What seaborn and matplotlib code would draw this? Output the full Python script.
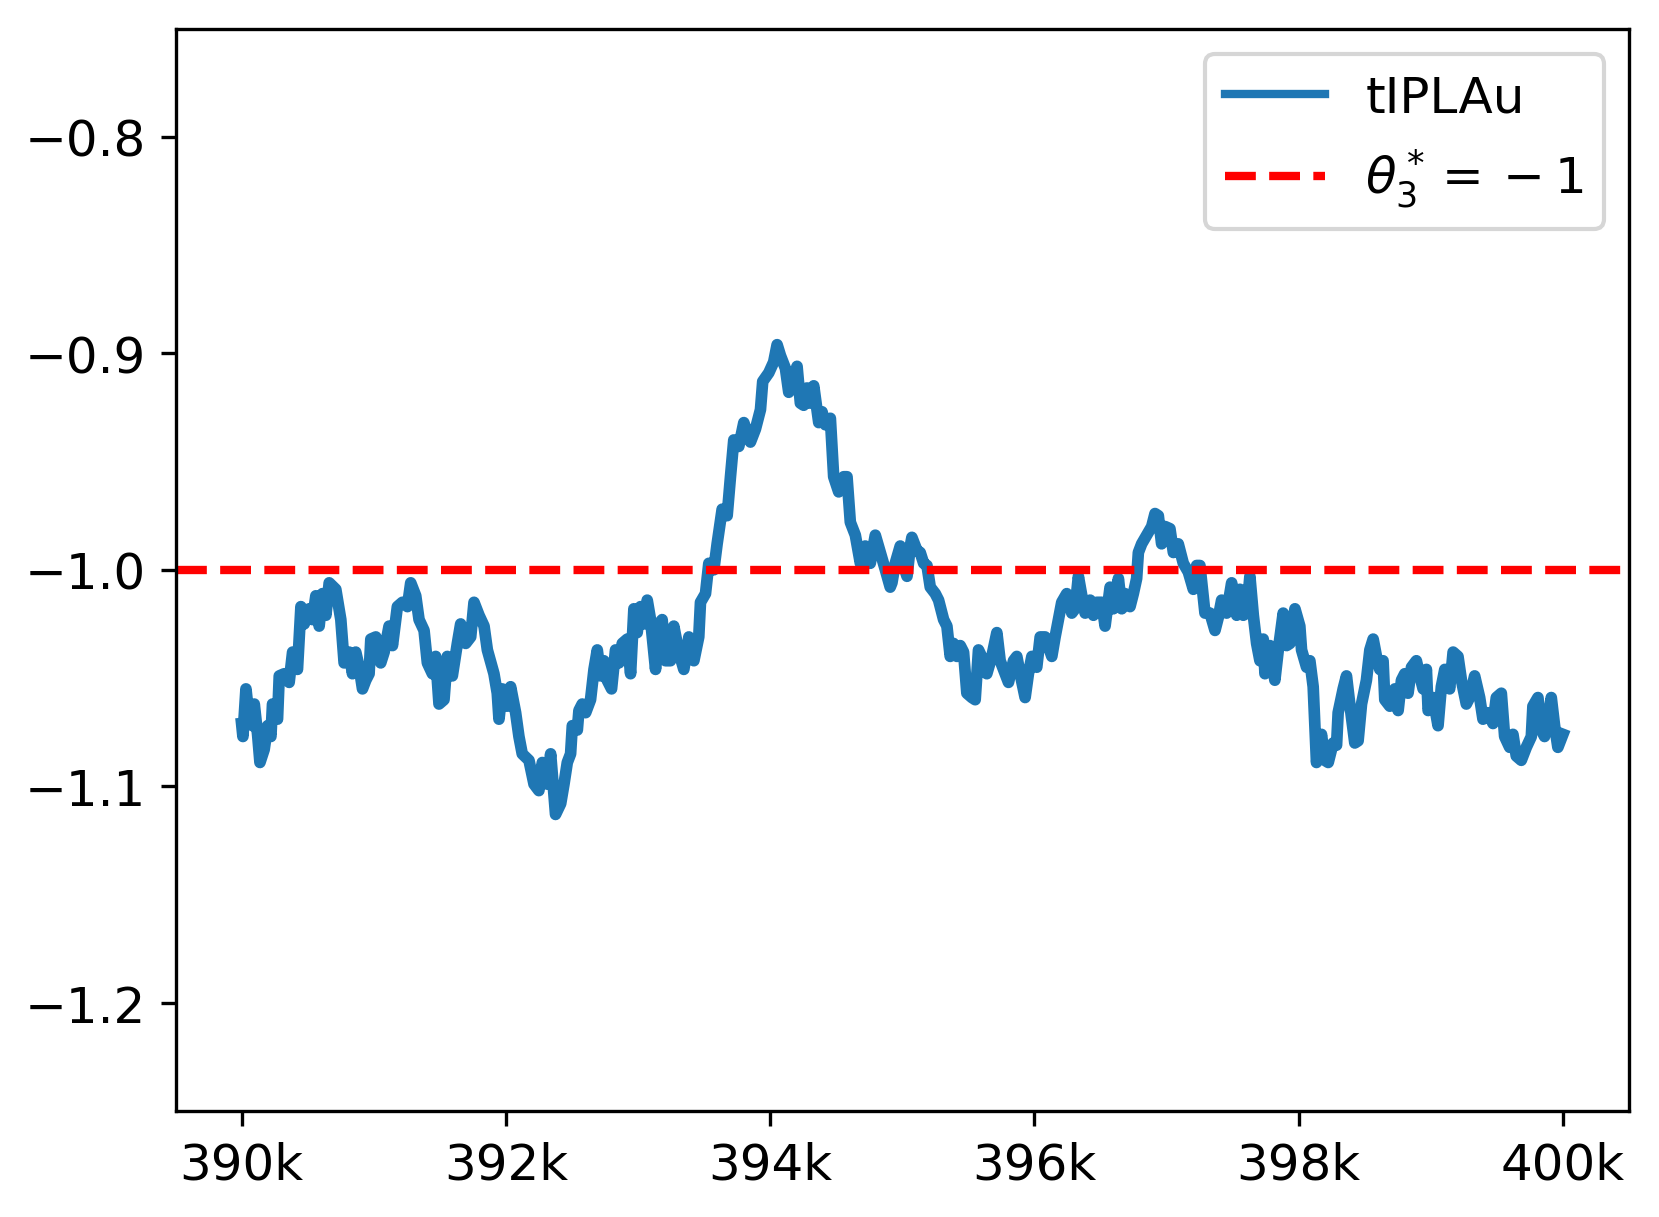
import numpy as np
import matplotlib
matplotlib.use("Agg")
import matplotlib.pyplot as plt
import seaborn as sns
from matplotlib.ticker import FuncFormatter

# Datos (iteracion, valor de theta_3)
steps = [
    390000, 390010, 390033, 390058, 390083, 390096, 390121, 390139, 390171, 390197,
    390222, 390234, 390272, 390285, 390323, 390360, 390386, 390423, 390449, 390474,
    390512, 390537, 390562, 390587, 390612, 390638, 390663, 390713, 390751, 390776,
    390814, 390839, 390864, 390890, 390915, 390940, 390965, 390978, 391016, 391053,
    391079, 391116, 391142, 391179, 391217, 391255, 391280, 391318, 391343, 391381,
    391406, 391444, 391469, 391494, 391532, 391557, 391595, 391633, 391658, 391696,
    391734, 391759, 391797, 391835, 391860, 391910, 391935, 391948, 391973, 392011,
    392036, 392074, 392099, 392124, 392175, 392213, 392250, 392276, 392313, 392339,
    392376,
    392415, 392440, 392465, 392490, 392503, 392541, 392553, 392578, 392604, 392641,
    392667, 392692, 392717, 392742, 392767, 392800, 392830, 392856, 392881, 392919,
    392944, 392969, 392994, 393019, 393045, 393070, 393095, 393133, 393158, 393183,
    393208, 393246, 393271, 393309, 393347, 393385, 393423, 393460, 393473, 393511,
    393536, 393574, 393599, 393637, 393675, 393700, 393725, 393763, 393801, 393851,
    393889, 393927, 393944, 393990, 394027, 394053, 394078, 394116, 394141, 394166,
    394204, 394229, 394254, 394279, 394305, 394330, 394368, 394393, 394418, 394456,
    394481, 394519, 394557, 394582, 394607, 394645, 394683, 394720, 394758, 394796,
    394834, 394872, 394909,
    394922, 394947, 394985, 395010, 395036, 395061, 395073, 395111, 395136, 395162,
    395187, 395212, 395250, 395275, 395313, 395338, 395363, 395388, 395414, 395439,
    395464, 395489, 395527, 395552, 395577, 395615, 395640, 395678, 395716, 395741,
    395766, 395804, 395842, 395867, 395892, 395930, 395955, 395981, 396018, 396044,
    396081, 396132, 396157, 396182, 396207, 396245, 396283, 396308, 396333, 396359,
    396384, 396422, 396447, 396472, 396510, 396535, 396573, 396598, 396636, 396661,
    396686, 396724, 396749, 396774, 396787, 396812, 396850, 396888, 396913, 396938,
    396963, 396989, 397026, 397052, 397089, 397127, 397165, 397203, 397228, 397253,
    397291, 397329, 397367,
    397392, 397417, 397455, 397493, 397531, 397556, 397581, 397606, 397631, 397657,
    397682, 397707, 397732, 397745, 397783, 397820, 397846, 397883, 397909, 397934,
    397972, 398009, 398022, 398060, 398085, 398110, 398135, 398173, 398198, 398224,
    398261, 398287, 398299, 398337, 398362, 398387, 398425, 398450, 398476, 398513,
    398539, 398564, 398589, 398614, 398639, 398652, 398690, 398728, 398753, 398778,
    398803, 398828, 398854, 398891, 398917, 398942, 398967, 398980, 399017, 399055,
    399080, 399106, 399143, 399169, 399206, 399232, 399269, 399294, 399332, 399370,
    399395, 399433, 399471, 399496, 399534, 399559, 399597, 399622, 399647, 399685,
    399723, 399761, 399773, 399811, 399836, 399861, 399887, 399912, 399937, 399962,
    400000,
]

theta3 = [
    -1.071, -1.077, -1.055, -1.069, -1.072, -1.062, -1.076, -1.089, -1.083, -1.072,
    -1.077, -1.062, -1.069, -1.049, -1.048, -1.052, -1.038, -1.046, -1.017, -1.025,
    -1.018, -1.023, -1.012, -1.026, -1.011, -1.021, -1.006, -1.009, -1.023, -1.043,
    -1.038, -1.048, -1.038, -1.045, -1.055, -1.051, -1.048, -1.032, -1.031, -1.043,
    -1.038, -1.026, -1.035, -1.017, -1.015, -1.017, -1.006, -1.012, -1.023, -1.028,
    -1.043, -1.048, -1.040, -1.062, -1.060, -1.040, -1.049, -1.034, -1.025, -1.034,
    -1.031, -1.015, -1.021, -1.026, -1.037, -1.048, -1.057, -1.069, -1.055, -1.063,
    -1.054, -1.066, -1.077, -1.085, -1.088, -1.099, -1.102, -1.089, -1.099, -1.085,
    -1.113,
    -1.108, -1.099, -1.089, -1.085, -1.072, -1.074, -1.065, -1.062, -1.066, -1.060,
    -1.046, -1.037, -1.049, -1.042, -1.051, -1.055, -1.037, -1.043, -1.034, -1.032,
    -1.048, -1.018, -1.029, -1.017, -1.025, -1.014, -1.023, -1.046, -1.025, -1.023,
    -1.042, -1.042, -1.026, -1.038, -1.046, -1.031, -1.042, -1.031, -1.015, -1.011,
    -0.997, -1.000, -0.988, -0.972, -0.975, -0.957, -0.940, -0.943, -0.932, -0.941,
    -0.935, -0.926, -0.913, -0.909, -0.904, -0.896, -0.901, -0.907, -0.918, -0.913,
    -0.906, -0.923, -0.924, -0.916, -0.923, -0.915, -0.932, -0.927, -0.933, -0.930,
    -0.957, -0.964, -0.957, -0.957, -0.978, -0.984, -0.997, -0.989, -0.997, -0.984,
    -0.992, -1.000, -1.008,
    -1.006, -0.997, -0.989, -0.998, -1.003, -0.989, -0.985, -0.991, -0.992, -0.997,
    -0.998, -1.008, -1.011, -1.014, -1.023, -1.026, -1.040, -1.034, -1.040, -1.035,
    -1.038, -1.057, -1.059, -1.060, -1.037, -1.042, -1.048, -1.040, -1.029, -1.042,
    -1.046, -1.052, -1.042, -1.040, -1.048, -1.059, -1.048, -1.040, -1.045, -1.031,
    -1.031, -1.040, -1.031, -1.023, -1.015, -1.011, -1.020, -1.018, -1.003, -1.012,
    -1.020, -1.014, -1.021, -1.015, -1.015, -1.026, -1.008, -1.018, -1.004, -1.018,
    -1.011, -1.017, -1.011, -1.004, -0.992, -0.988, -0.984, -0.980, -0.974, -0.975,
    -0.988, -0.980, -0.981, -0.992, -0.988, -0.997, -1.001, -1.009, -0.998, -0.998,
    -1.020, -1.020, -1.028,
    -1.022, -1.014, -1.020, -1.006, -1.021, -1.009, -1.021, -1.020, -1.003, -1.021,
    -1.034, -1.042, -1.032, -1.048, -1.035, -1.051, -1.037, -1.020, -1.035, -1.034,
    -1.018, -1.026, -1.037, -1.045, -1.042, -1.054, -1.089, -1.076, -1.088, -1.089,
    -1.080, -1.081, -1.066, -1.055, -1.049, -1.062, -1.080, -1.079, -1.062, -1.051,
    -1.037, -1.032, -1.040, -1.046, -1.042, -1.060, -1.063, -1.055, -1.065, -1.051,
    -1.048, -1.057, -1.045, -1.042, -1.049, -1.055, -1.046, -1.065, -1.059, -1.072,
    -1.054, -1.046, -1.055, -1.038, -1.040, -1.051, -1.062, -1.059, -1.049, -1.059,
    -1.069, -1.066, -1.071, -1.059, -1.057, -1.077, -1.082, -1.076, -1.086, -1.088,
    -1.082, -1.077, -1.063, -1.059, -1.074, -1.077, -1.069, -1.059, -1.072, -1.082,
    -1.076,
]

THETA_TRUE = -1
SERIES_LABEL = "tIPLAu"
# el {} hace que el menos se espacie como operador binario (como en la figura)
TRUE_LABEL = r"$\theta_3^* = {}-1$"

# Figura
fig = plt.figure(figsize=(5.53, 4.06), dpi=300)
ax = fig.add_axes([0.1058, 0.087, 0.8761, 0.8887])

sns.lineplot(x=np.array(steps), y=np.array(theta3), ax=ax, color="#1f77b4",
             linewidth=2.8, estimator=None, label=SERIES_LABEL)
ax.axhline(THETA_TRUE, color="red", linestyle="--", linewidth=2, label=TRUE_LABEL)

ax.set_ylim(-1.25, -0.75)
ax.set_xlabel("")
ax.set_ylabel("")
ax.xaxis.set_major_formatter(FuncFormatter(lambda v, p: f"{int(round(v / 1000))}k"))
ax.tick_params(labelsize=12)
leg = ax.legend(loc="upper right", fontsize=12)
leg.get_lines()[0].set_linewidth(2)

fig.savefig("out.png", dpi=300)
